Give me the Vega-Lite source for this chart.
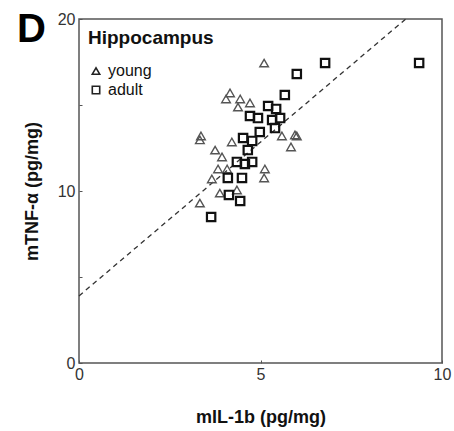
{
  "$schema": "https://vega.github.io/schema/vega-lite/v6.json",
  "width": 363,
  "height": 344,
  "autosize": {"type": "none"},
  "padding": {"left": 79, "top": 19, "right": 12, "bottom": 68},
  "background": "white",
  "title": {
    "text": "D",
    "orient": "top",
    "anchor": "start",
    "frame": "group",
    "fontSize": 40,
    "fontWeight": "bold",
    "font": "Liberation Sans",
    "color": "black",
    "baseline": "top",
    "offset": 0,
    "dx": -62,
    "dy": 39
  },
  "config": {
    "view": {"stroke": "#555", "strokeWidth": 1.5},
    "font": "Liberation Sans",
    "axis": {
      "grid": false,
      "domain": false,
      "labelFont": "Liberation Sans",
      "labelFontSize": 16,
      "labelColor": "#333",
      "titleFont": "Liberation Sans",
      "titleFontSize": 18,
      "titleFontWeight": "bold",
      "titleColor": "#111",
      "tickColor": "#555",
      "tickSize": -3
    }
  },
  "datasets": {
    "pts": [
      {"group": "young", "il1b": 5.10, "tnf": 17.44},
      {"group": "young", "il1b": 4.16, "tnf": 15.70},
      {"group": "young", "il1b": 4.05, "tnf": 15.35},
      {"group": "young", "il1b": 4.44, "tnf": 15.35},
      {"group": "young", "il1b": 4.38, "tnf": 14.88},
      {"group": "young", "il1b": 4.71, "tnf": 15.12},
      {"group": "young", "il1b": 3.36, "tnf": 13.20},
      {"group": "young", "il1b": 3.33, "tnf": 12.97},
      {"group": "young", "il1b": 4.21, "tnf": 12.85},
      {"group": "young", "il1b": 3.75, "tnf": 12.38},
      {"group": "young", "il1b": 3.94, "tnf": 11.98},
      {"group": "young", "il1b": 3.83, "tnf": 11.28},
      {"group": "young", "il1b": 4.08, "tnf": 11.28},
      {"group": "young", "il1b": 3.66, "tnf": 10.70},
      {"group": "young", "il1b": 3.88, "tnf": 9.88},
      {"group": "young", "il1b": 3.33, "tnf": 9.30},
      {"group": "young", "il1b": 4.35, "tnf": 10.06},
      {"group": "young", "il1b": 5.12, "tnf": 11.28},
      {"group": "young", "il1b": 5.10, "tnf": 10.76},
      {"group": "young", "il1b": 5.59, "tnf": 13.20},
      {"group": "young", "il1b": 5.84, "tnf": 12.56},
      {"group": "young", "il1b": 5.95, "tnf": 13.26},
      {"group": "young", "il1b": 6.00, "tnf": 13.20},
      {"group": "adult", "il1b": 9.37, "tnf": 17.44},
      {"group": "adult", "il1b": 6.78, "tnf": 17.44},
      {"group": "adult", "il1b": 6.00, "tnf": 16.80},
      {"group": "adult", "il1b": 5.67, "tnf": 15.58},
      {"group": "adult", "il1b": 5.21, "tnf": 14.94},
      {"group": "adult", "il1b": 5.43, "tnf": 14.77},
      {"group": "adult", "il1b": 4.71, "tnf": 14.36},
      {"group": "adult", "il1b": 4.93, "tnf": 14.24},
      {"group": "adult", "il1b": 5.32, "tnf": 14.13},
      {"group": "adult", "il1b": 5.54, "tnf": 14.24},
      {"group": "adult", "il1b": 5.40, "tnf": 13.66},
      {"group": "adult", "il1b": 4.98, "tnf": 13.43},
      {"group": "adult", "il1b": 4.52, "tnf": 13.08},
      {"group": "adult", "il1b": 4.77, "tnf": 12.91},
      {"group": "adult", "il1b": 4.65, "tnf": 12.38},
      {"group": "adult", "il1b": 4.35, "tnf": 11.69},
      {"group": "adult", "il1b": 4.57, "tnf": 11.57},
      {"group": "adult", "il1b": 4.77, "tnf": 11.69},
      {"group": "adult", "il1b": 4.10, "tnf": 10.76},
      {"group": "adult", "il1b": 4.49, "tnf": 10.76},
      {"group": "adult", "il1b": 4.13, "tnf": 9.77},
      {"group": "adult", "il1b": 4.44, "tnf": 9.42},
      {"group": "adult", "il1b": 3.64, "tnf": 8.49}
    ],
    "fit": [
      {"x1": 0, "y1": 3.9, "x2": 9.0, "y2": 20}
    ]
  },
  "layer": [
    {
      "data": {"name": "fit"},
      "mark": {"type": "rule", "color": "#333", "strokeWidth": 1.3, "strokeDash": [5, 4]},
      "encoding": {
        "x": {"field": "x1", "type": "quantitative", "scale": {"domain": [0, 10]}},
        "y": {"field": "y1", "type": "quantitative", "scale": {"domain": [0, 20]}},
        "x2": {"field": "x2"},
        "y2": {"field": "y2"}
      }
    },
    {
      "data": {"name": "pts"},
      "mark": {"type": "point", "filled": false, "opacity": 1},
      "encoding": {
        "x": {
          "field": "il1b",
          "type": "quantitative",
          "scale": {"domain": [0, 10], "nice": false},
          "axis": {
            "values": [0, 5, 10],
            "title": "mIL-1b (pg/mg)",
            "labelPadding": 6,
            "titlePadding": 26,
            "labelFlush": false
          }
        },
        "y": {
          "field": "tnf",
          "type": "quantitative",
          "scale": {"domain": [0, 20], "nice": false},
          "axis": {
            "values": [0, 5, 10, 15, 20],
            "labelExpr": "datum.value % 10 == 0 ? datum.label : ''",
            "title": "mTNF-α (pg/mg)",
            "labelPadding": 7,
            "titlePadding": 16
          }
        },
        "shape": {
          "field": "group",
          "type": "nominal",
          "scale": {"domain": ["young", "adult"], "range": ["triangle-up", "square"]},
          "legend": {
            "title": "Hippocampus",
            "orient": "none",
            "legendX": 9,
            "legendY": 10,
            "titleFontSize": 19,
            "titleFontWeight": "bold",
            "titleColor": "#111",
            "titlePadding": 15,
            "labelFontSize": 16,
            "labelColor": "#111",
            "labelOffset": 4,
            "rowPadding": 3,
            "symbolStrokeColor": "#222",
            "symbolStrokeWidth": 1.6,
            "symbolSize": 55
          }
        },
        "color": {
          "condition": {"test": "datum.group == 'young'", "value": "#555"},
          "value": "#111"
        },
        "size": {
          "condition": {"test": "datum.group == 'young'", "value": 75},
          "value": 70
        },
        "strokeWidth": {
          "condition": {"test": "datum.group == 'young'", "value": 1.4},
          "value": 2.2
        }
      }
    }
  ]
}
